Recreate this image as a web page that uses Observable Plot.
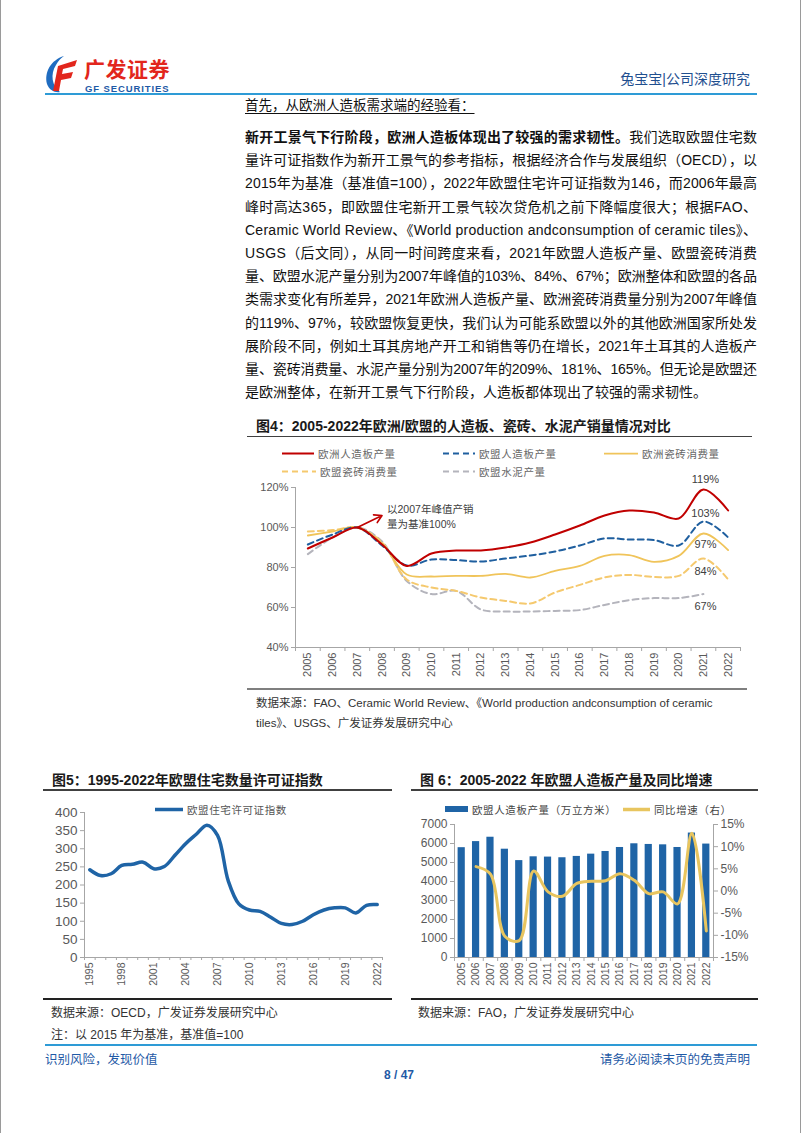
<!DOCTYPE html>
<html><head><meta charset="utf-8">
<script src="https://cdn.jsdelivr.net/npm/d3@7"></script>
<script src="https://cdn.jsdelivr.net/npm/@observablehq/plot@0.6"></script>
<style>
body{margin:0;background:#fff}
#page{position:relative;width:802px;height:1133px;overflow:hidden;background:#fff;font-family:"Liberation Sans","Noto Sans CJK SC",sans-serif;color:#000}
.a{position:absolute;white-space:nowrap}
.pl{position:absolute;left:245px;font-size:14px;color:#111;white-space:nowrap;line-height:22px}
</style></head><body><div id="page"></div>
<script>
// ---------------- DATA ----------------
const paraLead = "新开工景气下行阶段，欧洲人造板体现出了较强的需求韧性。";
const paraLines = [
  "我们选取欧盟住宅数",
  "量许可证指数作为新开工景气的参考指标，根据经济合作与发展组织（OECD），以",
  "2015年为基准（基准值=100），2022年欧盟住宅许可证指数为146，而2006年最高",
  "峰时高达365，即欧盟住宅新开工景气较次贷危机之前下降幅度很大；根据FAO、",
  "Ceramic World Review、《World production andconsumption of ceramic tiles》、",
  "USGS（后文同），从同一时间跨度来看，2021年欧盟人造板产量、欧盟瓷砖消费",
  "量、欧盟水泥产量分别为2007年峰值的103%、84%、67%；欧洲整体和欧盟的各品",
  "类需求变化有所差异，2021年欧洲人造板产量、欧洲瓷砖消费量分别为2007年峰值",
  "的119%、97%，较欧盟恢复更快，我们认为可能系欧盟以外的其他欧洲国家所处发",
  "展阶段不同，例如土耳其房地产开工和销售等仍在增长，2021年土耳其的人造板产",
  "量、瓷砖消费量、水泥产量分别为2007年的209%、181%、165%。但无论是欧盟还",
  "是欧洲整体，在新开工景气下行阶段，人造板都体现出了较强的需求韧性。"
];

// Figure 4
const years4 = [2005,2006,2007,2008,2009,2010,2011,2012,2013,2014,2015,2016,2017,2018,2019,2020,2021,2022];
const euPanel   = [89.5,95,100,91.5,80.8,87,88.5,88.5,90,92.5,96.5,101,106,108.5,107.5,104.5,119,108.5];
const eumPanel  = [91.5,96.5,100,91,81,84,83.7,83,84.5,86,88,91,94.5,94,93.7,91,103,95];
const euTile    = [96,98,100,92,76.5,75.5,75.8,75.8,76.8,75,78.3,80.8,85.8,86.2,82.8,85.8,97,88.7];
const eumTile   = [98,98.7,100,92.5,74,70,68.3,65,63.3,62,67.5,71.3,75,76.3,75.3,75.8,84.5,74];
const eumCement = [86.7,95,100,93,73.3,66.7,68.3,59,58,58,58.3,58.7,61.3,63.7,64.7,64.7,66.7];
const seriesNames4 = ["欧洲人造板产量","欧盟人造板产量","欧洲瓷砖消费量","欧盟瓷砖消费量","欧盟水泥产量"];
const yTicks4 = [40,60,80,100,120];
const endLabels4 = ["119%","103%","97%","84%","67%"];
const note4 = {x1:2007, y1:100, x2:2008, y2:106, text:"以2007年峰值产销\n量为基准100%"};
const source4a = "数据来源：FAO、Ceramic World Review、《World production andconsumption of ceramic";
const source4b = "tiles》、USGS、广发证券发展研究中心";

// Figure 5
const years5 = [1995,1996,1997,1998,1999,2000,2001,2002,2003,2004,2005,2006,2007,2008,2009,2010,2011,2012,2013,2014,2015,2016,2017,2018,2019,2020,2021,2022];
const permits = [242,226,231,254,257,263,245,251,282,314,340,365,337,212,148,131,127,111,94,91,100,118,131,137,137,123,144,146];
const yearLabels5 = [1995,1998,2001,2004,2007,2010,2013,2016,2019,2022];
const yTicks5 = [0,50,100,150,200,250,300,350,400];

// Figure 6
const years6 = [2005,2006,2007,2008,2009,2010,2011,2012,2013,2014,2015,2016,2017,2018,2019,2020,2021,2022];
const prod6 = [5780,6100,6330,5700,5100,5300,5285,5250,5320,5440,5580,5790,5985,5950,5930,5790,6550,5970];
const yoyYears6 = [2006,2007,2008,2009,2010,2011,2012,2013,2014,2015,2016,2017,2018,2019,2020,2021,2022];
const yoy6 = [5.5,3.8,-10.2,-11.2,4.5,-0.2,-1.2,1.7,2.2,2.3,3.9,2.4,-0.6,-0.2,-2.9,13,-9];
const yTicks6L = [0,1000,2000,3000,4000,5000,6000,7000];
const yTicks6R = [-15,-10,-5,0,5,10,15];

// ---------------- LAYOUT HELPERS ----------------
const F = '"Liberation Sans","Noto Sans CJK SC",sans-serif';
const page = document.getElementById("page");
function put(html, x, yc, css, right) {
  const d = document.createElement("div");
  d.className = "a";
  d.style.cssText = (right ? `right:${802 - x}px;` : `left:${x}px;`) + `top:${yc}px;transform:translateY(-50%);` + (css || "");
  d.innerHTML = html;
  page.appendChild(d);
  return d;
}
function hline(x1, x2, y, color, w) {
  const d = document.createElement("div");
  d.style.cssText = `position:absolute;left:${x1}px;top:${y - w / 2}px;width:${x2 - x1}px;height:${w}px;background:${color}`;
  page.appendChild(d);
}
function vline(x, y1, y2, color, w) {
  const d = document.createElement("div");
  d.style.cssText = `position:absolute;left:${x}px;top:${y1}px;width:${w}px;height:${y2 - y1}px;background:${color}`;
  page.appendChild(d);
}
function place(svg, x, y) {
  svg.style.position = "absolute";
  svg.style.left = x + "px";
  svg.style.top = y + "px";
  page.appendChild(svg);
}
function legendItem(x, y, sw, label, css) {
  put(`<svg width="${sw.w}" height="8" style="vertical-align:middle"><line x1="0" x2="${sw.w}" y1="4" y2="4" stroke="${sw.c}" stroke-width="${sw.sw}" ${sw.d ? `stroke-dasharray="${sw.d}"` : ""}/></svg>`, x, y, "line-height:8px");
  put(label, x + sw.w + 4, y, css);
}

// page edges
vline(0, 0, 1133, "#9a9a9a", 1);
vline(800, 0, 1133, "#9a9a9a", 1);

// ---------------- HEADER ----------------
put(`<svg width="34" height="38" viewBox="0 0 34 38"><path d="M20 1 C7 5 0 17 3 29 C5 35 11 38 16 37 C8 31 6 19 12 10 C14 6 17 3 20 1Z" fill="#1f6cc0"/><path d="M14 11 L33 5 L31 11 L19 14 L18 19 L29 17 L27 23 L17 25 L15 36 L9 36 Z" fill="#e2261c"/></svg>`, 44, 74, "line-height:0");
put("广发证券", 84, 70, "font-size:21px;line-height:22px;font-weight:bold;color:#e2261c;letter-spacing:0.5px");
put("GF SECURITIES", 85, 88.5, "font-size:9.5px;line-height:10px;font-weight:bold;color:#1f5aa6;letter-spacing:0.9px");
put("兔宝宝|公司深度研究", 750, 78, "font-size:14px;color:#1f4f8f", true);
hline(45, 757, 93.5, "#2e9bd6", 2);

put("首先，从欧洲人造板需求端的经验看：", 245, 104, "font-size:13.5px;color:#111;text-decoration:underline;text-underline-offset:3px");

// ---------------- PARAGRAPH (each line fitted to the 512px column) ----------------
const lh = 23.2, y0 = 137, colW = 512;
paraLines.forEach((t, i) => {
  const d = document.createElement("div");
  d.className = "pl";
  d.style.top = (y0 + i * lh - 11) + "px";
  d.innerHTML = i === 0 ? `<b>${paraLead}</b>${t}` : t;
  page.appendChild(d);
  if (i < paraLines.length - 1) {
    const w = d.getBoundingClientRect().width;
    const n = [...(i === 0 ? paraLead + t : t)].length;
    d.style.letterSpacing = ((colW - w) / (n - 1)) + "px";
  }
});

// ---------------- FIGURE 4 ----------------
put("图4：2005-2022年欧洲/欧盟的人造板、瓷砖、水泥产销量情况对比", 256, 425, "font-size:14px;font-weight:bold;color:#1a1a1a");
hline(247, 752, 436.5, "#404040", 1.5);

const styles4 = [
  {c:"#c00000", sw:2, d:null},
  {c:"#1f5f9f", sw:2, d:"6,4"},
  {c:"#f0c45a", sw:1.8, d:null},
  {c:"#f5c96e", sw:2, d:"6,4"},
  {c:"#b4b4bc", sw:2, d:"6,4"}
];
const legCss = "font-size:10.5px;color:#666;letter-spacing:0.6px";
legendItem(282, 453, {...styles4[0], w:32}, seriesNames4[0], legCss);
legendItem(443, 453, {...styles4[1], w:32}, seriesNames4[1], legCss);
legendItem(604, 453, {...styles4[2], w:34}, seriesNames4[2], legCss);
legendItem(282, 471, {...styles4[3], w:34}, seriesNames4[3], legCss);
legendItem(443, 471, {...styles4[4], w:32}, seriesNames4[4], legCss);

const data4 = [euPanel, eumPanel, euTile, eumTile, eumCement];
const rows4 = data4.map((vals, k) => vals.map((v, i) => ({s: seriesNames4[k], year: years4[i], v})));
const bounds4 = years4.map(y => y - 0.5).concat([years4[years4.length - 1] + 0.5]);
const i2021 = years4.indexOf(2021);
const labelRows4 = endLabels4.map((t, k) => ({t, year: 2021, v: data4[k][i2021]}));
const labelDy4 = [-10, -8.5, 11, 13, 12];

const p4 = Plot.plot({
  width: 512, height: 220, marginLeft: 50, marginRight: 17, marginTop: 20, marginBottom: 40,
  style: {background: "transparent", fontFamily: F, fontSize: "11px", overflow: "visible"},
  x: {type: "linear", domain: [bounds4[0], bounds4[bounds4.length - 1]]},
  y: {type: "linear", domain: [40, 120]},
  marks: [
    Plot.axisY({ticks: yTicks4, tickFormat: d => d + "%", tickSize: 4, tickPadding: 3, stroke: "#a6a6a6", fill: "#595959", fontSize: 11, label: null}),
    Plot.axisX({ticks: bounds4, tickFormat: () => "", tickSize: 4, stroke: "#a6a6a6", label: null}),
    Plot.axisX({ticks: years4, tickFormat: d => String(d), tickSize: 0, tickPadding: 5, tickRotate: -90, fill: "#595959", fontSize: 11, label: null}),
    Plot.ruleX([bounds4[0]], {stroke: "#a6a6a6"}),
    Plot.ruleY([40], {stroke: "#a6a6a6"}),
    ...[4, 3, 2, 1, 0].map(k => Plot.line(rows4[k], {x: "year", y: "v", curve: "catmull-rom", stroke: styles4[k].c, strokeWidth: styles4[k].sw, strokeDasharray: styles4[k].d || undefined})),
    Plot.arrow([note4], {x1: "x1", y1: "y1", x2: "x2", y2: "y2", stroke: "#c00000", strokeWidth: 1.6, headLength: 8}),
    Plot.text([note4], {x: "x2", y: "y2", text: "text", textAnchor: "start", lineAnchor: "middle", dx: 5, lineHeight: 1.4, fontSize: 10.5, fill: "#404040"}),
    ...labelRows4.map((r, k) => Plot.text([r], {x: "year", y: "v", text: "t", dy: labelDy4[k], dx: 2, fontSize: 11, fill: "#404040"}))
  ]
});
place(p4, 245, 466.7);

hline(247, 747, 689, "#7f7f7f", 1.2);
put(source4a, 256, 701.5, "font-size:11.5px;color:#333");
put(source4b, 256, 721.5, "font-size:11.5px;color:#333");

// ---------------- FIGURE 5 ----------------
put("图5：1995-2022年欧盟住宅数量许可证指数", 52, 779, "font-size:14px;font-weight:bold;color:#1a1a1a");
hline(43, 392, 790, "#404040", 1.5);
legendItem(155, 809, {c: "#1f64a6", sw: 3.5, d: null, w: 28}, "欧盟住宅许可证指数", "font-size:10.5px;color:#555;letter-spacing:0.6px");

const rows5 = years5.map((y, i) => ({year: y, v: permits[i]}));
const bounds5 = years5.map(y => y - 0.5).concat([years5[years5.length - 1] + 0.5]);
const p5 = Plot.plot({
  width: 355, height: 195, marginLeft: 44, marginRight: 13, marginTop: 10, marginBottom: 40,
  style: {background: "transparent", fontFamily: F, fontSize: "12px", overflow: "visible"},
  x: {type: "linear", domain: [bounds5[0], bounds5[bounds5.length - 1]]},
  y: {type: "linear", domain: [0, 400]},
  marks: [
    Plot.axisY({ticks: yTicks5, tickFormat: d => String(d), tickSize: 4, tickPadding: 3, stroke: "#a6a6a6", fill: "#595959", fontSize: 13.5, label: null}),
    Plot.axisX({ticks: bounds5, tickFormat: () => "", tickSize: 3, stroke: "#a6a6a6", label: null}),
    Plot.axisX({ticks: yearLabels5, tickFormat: d => String(d), tickSize: 0, tickPadding: 5, tickRotate: -90, fill: "#595959", fontSize: 10.5, label: null}),
    Plot.ruleX([bounds5[0]], {stroke: "#a6a6a6"}),
    Plot.ruleY([0], {stroke: "#a6a6a6"}),
    Plot.line(rows5, {x: "year", y: "v", curve: "catmull-rom", stroke: "#1f64a6", strokeWidth: 3.5})
  ]
});
place(p5, 40, 802);

hline(43, 392, 999, "#222", 1.5);
put("数据来源：OECD，广发证券发展研究中心", 51, 1010.5, "font-size:12px;color:#333");
put("注：以 2015 年为基准，基准值=100", 51, 1033, "font-size:12px;color:#333");

// ---------------- FIGURE 6 ----------------
put("图 6：2005-2022 年欧盟人造板产量及同比增速", 420, 779, "font-size:14px;font-weight:bold;color:#1a1a1a");
hline(411, 758, 790, "#404040", 1.5);
put(`<svg width="23" height="6"><rect width="23" height="6" fill="#1f64a6"/></svg>`, 445, 809, "line-height:0");
put("欧盟人造板产量（万立方米）", 472, 809, "font-size:10.5px;color:#444;letter-spacing:0.6px");
legendItem(623, 809, {c: "#e8c55f", sw: 3.5, d: null, w: 27}, "同比增速（右）", "font-size:10.5px;color:#444;letter-spacing:0.6px");

const yMax6 = yTicks6L[yTicks6L.length - 1];
const rMin = yTicks6R[0], rMax = yTicks6R[yTicks6R.length - 1];
const toLeft = v => (v - rMin) / (rMax - rMin) * yMax6;
const rows6 = years6.map((y, i) => ({year: y, v: prod6[i]}));
const rowsYoy = yoyYears6.map((y, i) => ({year: y, v: toLeft(yoy6[i])}));
const bounds6 = years6.map(y => y - 0.5).concat([years6[years6.length - 1] + 0.5]);
const p6 = Plot.plot({
  width: 347, height: 183, marginLeft: 44, marginRight: 44, marginTop: 10, marginBottom: 40,
  style: {background: "transparent", fontFamily: F, fontSize: "11px", overflow: "visible"},
  x: {type: "linear", domain: [bounds6[0], bounds6[bounds6.length - 1]]},
  y: {type: "linear", domain: [0, yMax6]},
  marks: [
    Plot.axisY({ticks: yTicks6L, tickFormat: d => String(d), tickSize: 4, tickPadding: 3, stroke: "#a6a6a6", fill: "#595959", fontSize: 12, label: null}),
    Plot.axisY({anchor: "right", ticks: yTicks6R.map(toLeft), tickFormat: d => Math.round(d / yMax6 * (rMax - rMin) + rMin) + "%", tickSize: 4, tickPadding: 3, stroke: "#a6a6a6", fill: "#595959", fontSize: 12, label: null}),
    Plot.axisX({ticks: bounds6, tickFormat: () => "", tickSize: 4, stroke: "#a6a6a6", label: null}),
    Plot.axisX({ticks: years6, tickFormat: d => String(d), tickSize: 0, tickPadding: 5, tickRotate: -90, fill: "#595959", fontSize: 10.5, label: null}),
    Plot.ruleX([bounds6[0], bounds6[bounds6.length - 1]], {stroke: "#a6a6a6"}),
    Plot.ruleY([0], {stroke: "#a6a6a6"}),
    Plot.rectY(rows6, {x1: d => d.year - 0.25, x2: d => d.year + 0.25, y1: 0, y2: "v", fill: "#1f64a6"}),
    Plot.line(rowsYoy, {x: "year", y: "v", curve: "catmull-rom", stroke: "#e8c55f", strokeWidth: 3})
  ]
});
place(p6, 410, 814);

hline(411, 758, 999, "#222", 1.5);
put("数据来源：FAO，广发证券发展研究中心", 418, 1010.5, "font-size:12px;color:#333");

// ---------------- FOOTER ----------------
hline(45, 757, 1045, "#2e9bd6", 2);
put("识别风险，发现价值", 45, 1057.5, "font-size:12.5px;color:#1f5aa6");
put("请务必阅读末页的免责声明", 750, 1057.5, "font-size:12.5px;color:#1f5aa6", true);
put("8 / 47", 399, 1075, "font-size:12px;font-weight:bold;color:#1f5aa6;transform:translate(-50%,-50%)");
</script></body></html>
